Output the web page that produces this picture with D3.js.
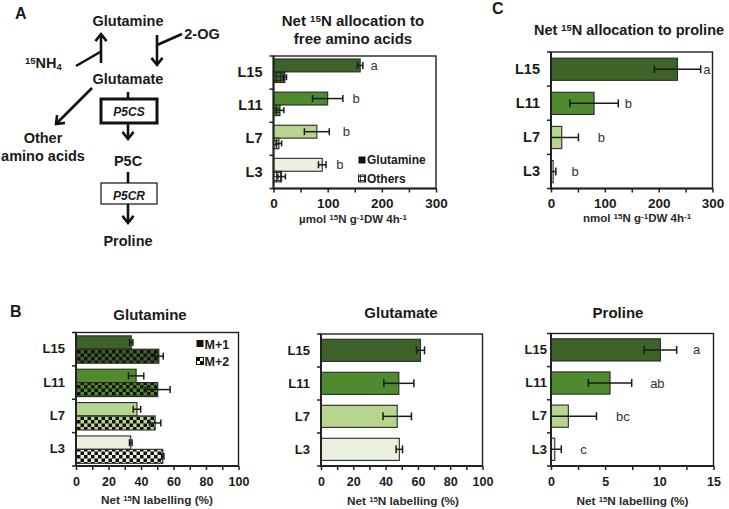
<!DOCTYPE html>
<html><head><meta charset="utf-8">
<script src="https://cdn.jsdelivr.net/npm/d3@7"></script>
<style>body{margin:0;background:#fff} svg{display:block} text{font-family:"Liberation Sans",Arial,sans-serif;fill:#1a1a1a}</style>
</head><body>
<script>
// ---------------- DATA ----------------
const categories = ["L15", "L11", "L7", "L3"];

// Panel A: net 15N allocation to free amino acids (µmol)
const allocGlutamine = [160, 100, 80, 90];
const allocGlutamineErr = [5, 28, 23, 7];
const allocOthers = [21, 12, 10, 15];
const allocOthersErr = [3, 7, 5, 7];
const allocLetters = ["a", "b", "b", "b"];
const allocLetterAt = [179, 146, 128, 116];
const allocTicks = [0, 50, 100, 150, 200, 250, 300];
const allocTickLabels = [0, 100, 200, 300];

// Panel C: net 15N allocation to proline (nmol)
const prolineAlloc = [235, 80, 20, 4];
const prolineAllocErr = [43, 45, 31, 5];
const prolineAllocLetters = ["a", "b", "b", "b"];
const prolineAllocLetterAt = [283, 137, 87, 38];

// Panel B: net 15N labelling (%)
const glnM1 = [34, 37, 37.5, 33.7];
const glnM1Err = [1, 4.7, 2.3, 0.8];
const glnM2 = [51, 50.3, 48.7, 53.4];
const glnM2Err = [2.7, 7.6, 3.5, 0.7];
const gluLabel = [61.6, 48.2, 47.2, 48.5];
const gluLabelErr = [2.5, 9.3, 8.8, 2];
const proLabel = [10.1, 5.45, 1.6, 0.35];
const proLabelErr = [1.5, 2.0, 2.6, 0.6];
const proLetters = ["a", "ab", "bc", "c"];
const proLetterAt = [13.1, 9.15, 6.0, 2.7];
const pctTicks = [0, 10, 20, 30, 40, 50, 60, 70, 80, 90, 100];
const pctTickLabels = [0, 20, 40, 60, 80, 100];
const proTicks = [0, 2.5, 5, 7.5, 10, 12.5, 15];
const proTickLabels = [0, 5, 10, 15];

// ---------------- STYLE ----------------
const colors = ["#3e6329", "#4f8a2f", "#b6d690", "#eaf2df"];
const ink = "#1a1a1a";
const W = 729, H = 509;

const svg = d3.select("body").append("svg").attr("width", W).attr("height", H)
  .attr("viewBox", `0 0 ${W} ${H}`);
const defs = svg.append("defs");

colors.forEach((c, i) => {
  const p = defs.append("pattern").attr("id", "chk" + i).attr("patternUnits", "userSpaceOnUse")
    .attr("width", 7).attr("height", 7);
  p.append("rect").attr("width", 7).attr("height", 7).attr("fill", c);
  p.append("rect").attr("width", 3.5).attr("height", 3.5).attr("fill", "#111");
  p.append("rect").attr("x", 3.5).attr("y", 3.5).attr("width", 3.5).attr("height", 3.5).attr("fill", "#111");
});
colors.concat(["#ffffff"]).forEach((c, i) => {
  const p = defs.append("pattern").attr("id", "grd" + i).attr("patternUnits", "userSpaceOnUse")
    .attr("width", 4).attr("height", 4);
  p.append("rect").attr("width", 4).attr("height", 4).attr("fill", c);
  p.append("path").attr("d", "M0,0.5H4M0.5,0V4").attr("stroke", "#222").attr("stroke-width", 0.9);
});

// ---------------- HELPERS ----------------
function plot(cfg) {
  const g = svg.append("g");
  const x = d3.scaleLinear().domain(cfg.domain).range([cfg.x0, cfg.x1]);
  const y = d3.scaleBand().domain(categories).range([cfg.y0, cfg.y1]);
  cfg.series.forEach(s => {
    const bh = y.bandwidth();
    g.selectAll(null).data(categories).enter().append("rect")
      .attr("x", x(0))
      .attr("y", c => y(c) + s.off * bh)
      .attr("width", (c, i) => Math.max(0, x(s.values[i]) - x(0)))
      .attr("height", s.h * bh)
      .attr("fill", (c, i) => s.fill(i))
      .attr("stroke", "#2a2a2a").attr("stroke-width", 1.1);
    const eg = g.selectAll(null).data(categories).enter().append("g")
      .attr("stroke", ink).attr("stroke-width", 1.5).attr("fill", "none");
    const yc = c => y(c) + (s.off + s.h / 2) * bh;
    const lo = i => x(Math.max(0, s.values[i] - s.err[i]));
    const hi = i => x(s.values[i] + s.err[i]);
    const cap = s.cap;
    eg.append("line").attr("x1", (c, i) => lo(i)).attr("x2", (c, i) => hi(i))
      .attr("y1", yc).attr("y2", yc);
    eg.append("line").attr("x1", (c, i) => lo(i)).attr("x2", (c, i) => lo(i))
      .attr("y1", c => yc(c) - cap).attr("y2", c => yc(c) + cap);
    eg.append("line").attr("x1", (c, i) => hi(i)).attr("x2", (c, i) => hi(i))
      .attr("y1", c => yc(c) - cap).attr("y2", c => yc(c) + cap);
    if (s.letters) {
      g.selectAll(null).data(categories).enter().append("text")
        .attr("x", (c, i) => x(s.letterAt[i]))
        .attr("y", yc).attr("dy", "0.35em")
        .attr("font-size", 13).attr("fill", "#333").style("fill", "#333")
        .text((c, i) => s.letters[i]);
    }
  });
  g.append("rect").attr("x", cfg.x0).attr("y", cfg.y0)
    .attr("width", cfg.x1 - cfg.x0).attr("height", cfg.y1 - cfg.y0)
    .attr("fill", "none").attr("stroke", "#222").attr("stroke-width", 1.4);
  g.append("path").attr("d", `M${cfg.x0},${cfg.y0}V${cfg.y1}H${cfg.x1}`)
    .attr("fill", "none").attr("stroke", "#222").attr("stroke-width", 2);
  const xa = g.append("g").attr("transform", `translate(0,${cfg.y1})`)
    .call(d3.axisBottom(x).tickValues(cfg.ticks).tickSize(4).tickPadding(cfg.xpad)
      .tickFormat(d => cfg.tickLabels.includes(d) ? d : ""));
  xa.select(".domain").remove();
  xa.selectAll("line").attr("stroke", "#222").attr("stroke-width", 1.5);
  xa.selectAll("text").attr("font-size", cfg.tickFs).attr("font-weight", "bold")
    .attr("font-family", '"Liberation Sans",Arial,sans-serif').style("fill", ink);
  g.selectAll(null).data(categories.map(c => y(c)).concat([cfg.y1])).enter().append("line")
    .attr("x1", cfg.x0 - 4).attr("x2", cfg.x0).attr("y1", d => d).attr("y2", d => d)
    .attr("stroke", "#222").attr("stroke-width", 1.5);
  const ya = g.append("g").attr("transform", `translate(${cfg.x0},0)`)
    .call(d3.axisLeft(y).tickSize(0).tickPadding(cfg.ypad));
  ya.select(".domain").remove();
  ya.selectAll("text").attr("font-size", cfg.catFs).attr("font-weight", "bold")
    .attr("font-family", '"Liberation Sans",Arial,sans-serif').style("fill", ink);
  return { g, x, y };
}

function richText(x, y, parts, opts) {
  const t = svg.append("text").attr("x", x).attr("y", y)
    .attr("font-size", opts.fs).attr("font-weight", opts.fw || "bold")
    .attr("text-anchor", opts.anchor || "middle");
  if (opts.fill) t.style("fill", opts.fill);
  if (opts.italic) t.attr("font-style", "italic");
  const k = opts.supk || 0.65;
  parts.forEach(p => {
    const ts = t.append("tspan").text(p.t);
    if (p.sup) ts.attr("font-size", opts.fs * k).attr("baseline-shift", "40%");
    if (p.sub) ts.attr("font-size", opts.fs * k).attr("baseline-shift", "-25%");
  });
  return t;
}

// ---------------- PANEL A: diagram ----------------
richText(15, 19, [{ t: "A" }], { fs: 16, anchor: "start" });
const dg = svg.append("g").attr("stroke", "#111").attr("stroke-width", 2.6).attr("fill", "none")
  .attr("stroke-linecap", "butt");
function line(x1, y1, x2, y2) { dg.append("line").attr("x1", x1).attr("y1", y1).attr("x2", x2).attr("y2", y2); }
function arrow(x1, y1, x2, y2, L = 9, ang = 38) {
  line(x1, y1, x2, y2);
  const a = Math.atan2(y2 - y1, x2 - x1), r = ang * Math.PI / 180;
  const p1 = [x2 - L * Math.cos(a - r), y2 - L * Math.sin(a - r)];
  const p2 = [x2 - L * Math.cos(a + r), y2 - L * Math.sin(a + r)];
  dg.append("path").attr("d", `M${p1}L${x2},${y2}L${p2}`).attr("stroke-linejoin", "miter");
}
const fsD = 14.5;
richText(128, 26, [{ t: "Glutamine" }], { fs: fsD });
richText(202, 39, [{ t: "2-OG" }], { fs: fsD });
richText(25, 68, [{ t: "15", sup: true }, { t: "NH" }, { t: "4", sub: true }], { fs: fsD, anchor: "start" });
richText(128, 84, [{ t: "Glutamate" }], { fs: fsD });
richText(43, 142.5, [{ t: "Other" }], { fs: fsD });
richText(43, 160.5, [{ t: "amino acids" }], { fs: fsD });
richText(128, 165.5, [{ t: "P5C" }], { fs: fsD });
richText(128, 246, [{ t: "Proline" }], { fs: fsD });

arrow(101, 63, 101, 34);
line(76, 66, 101, 51.5);
arrow(157, 35, 157, 65);
line(157, 45, 182, 34);
arrow(92, 88, 56, 124);
line(128, 92, 128, 99);
dg.append("rect").attr("x", 101).attr("y", 99).attr("width", 56).attr("height", 24).attr("stroke-width", 3);
richText(129, 116, [{ t: "P5CS" }], { fs: 12, italic: true });
arrow(128, 123, 128, 139);
line(128, 172, 128, 183);
dg.append("rect").attr("x", 101).attr("y", 183).attr("width", 56).attr("height", 21).attr("stroke-width", 1.2);
richText(129, 200, [{ t: "P5CR" }], { fs: 12, italic: true });
arrow(128, 204, 128, 223);

// ---------------- PANEL A: chart ----------------
richText(353, 26, [{ t: "Net " }, { t: "15", sup: true }, { t: "N allocation to" }], { fs: 15 });
richText(353, 43.5, [{ t: "free amino acids" }], { fs: 15 });
plot({
  domain: [0, 300], x0: 273.5, x1: 436, y0: 56, y1: 188.5,
  ticks: allocTicks, tickLabels: allocTickLabels, xpad: 6, tickFs: 13.5, catFs: 14.5, ypad: 11,
  series: [
    { values: allocGlutamine, err: allocGlutamineErr, off: 0.09, h: 0.39, cap: 3.5,
      fill: i => colors[i], letters: allocLetters, letterAt: allocLetterAt },
    { values: allocOthers, err: allocOthersErr, off: 0.48, h: 0.32, cap: 3,
      fill: i => `url(#grd${i})` }
  ]
});
svg.append("rect").attr("x", 358.5).attr("y", 156.5).attr("width", 7).attr("height", 7).attr("fill", "#111");
richText(367, 164, [{ t: "Glutamine" }], { fs: 12, anchor: "start" });
svg.append("rect").attr("x", 358.5).attr("y", 175).attr("width", 7).attr("height", 7)
  .attr("fill", "url(#grd4)").attr("stroke", "#222").attr("stroke-width", 1);
richText(367, 182.5, [{ t: "Others" }], { fs: 12, anchor: "start" });
richText(353, 223, [{ t: "µmol " }, { t: "15", sup: true }, { t: "N g" }, { t: "-1", sup: true }, { t: "DW 4h" }, { t: "-1", sup: true }], { fs: 11.5, supk: 0.7, fill: "#2a2a2a" });

// ---------------- PANEL C ----------------
richText(492, 14, [{ t: "C" }], { fs: 16, anchor: "start" });
richText(629, 35, [{ t: "Net " }, { t: "15", sup: true }, { t: "N allocation to proline" }], { fs: 14.5 });
plot({
  domain: [0, 300], x0: 551, x1: 712.5, y0: 52, y1: 188.5,
  ticks: allocTicks, tickLabels: allocTickLabels, xpad: 6, tickFs: 13.5, catFs: 14.5, ypad: 11,
  series: [
    { values: prolineAlloc, err: prolineAllocErr, off: 0.18, h: 0.65, cap: 4,
      fill: i => colors[i], letters: prolineAllocLetters, letterAt: prolineAllocLetterAt }
  ]
});
richText(637, 222, [{ t: "nmol " }, { t: "15", sup: true }, { t: "N g" }, { t: "-1", sup: true }, { t: "DW 4h" }, { t: "-1", sup: true }], { fs: 11.5, supk: 0.7, fill: "#2a2a2a" });

// ---------------- PANEL B ----------------
richText(10, 317, [{ t: "B" }], { fs: 16, anchor: "start" });
richText(150, 320, [{ t: "Glutamine" }], { fs: 15 });
plot({
  domain: [0, 100], x0: 76, x1: 238.5, y0: 332.5, y1: 466,
  ticks: pctTicks, tickLabels: pctTickLabels, xpad: 7, tickFs: 12.5, catFs: 13, ypad: 11,
  series: [
    { values: glnM1, err: glnM1Err, off: 0.1, h: 0.4, cap: 3.5, fill: i => colors[i] },
    { values: glnM2, err: glnM2Err, off: 0.5, h: 0.42, cap: 3.5, fill: i => `url(#chk${i})` }
  ]
});
svg.append("rect").attr("x", 196.5).attr("y", 340).attr("width", 7).attr("height", 7).attr("fill", "#111");
richText(204.5, 348.5, [{ t: "M+1" }], { fs: 12.5, anchor: "start" });
const lg2 = svg.append("g");
lg2.append("rect").attr("x", 196.5).attr("y", 357.5).attr("width", 7).attr("height", 7).attr("fill", "#fff").attr("stroke", "#111").attr("stroke-width", 1);
lg2.append("rect").attr("x", 196.5).attr("y", 357.5).attr("width", 3.5).attr("height", 3.5).attr("fill", "#111");
lg2.append("rect").attr("x", 200).attr("y", 361).attr("width", 3.5).attr("height", 3.5).attr("fill", "#111");
richText(204.5, 366, [{ t: "M+2" }], { fs: 12.5, anchor: "start" });
richText(157, 504, [{ t: "Net " }, { t: "15", sup: true }, { t: "N labelling (%)" }], { fs: 11.8, fill: "#2a2a2a" });

richText(401, 318, [{ t: "Glutamate" }], { fs: 15 });
plot({
  domain: [0, 100], x0: 321, x1: 482.5, y0: 334, y1: 466,
  ticks: pctTicks, tickLabels: pctTickLabels, xpad: 7, tickFs: 12.5, catFs: 13, ypad: 11,
  series: [
    { values: gluLabel, err: gluLabelErr, off: 0.16, h: 0.67, cap: 4, fill: i => colors[i] }
  ]
});
richText(403, 505, [{ t: "Net " }, { t: "15", sup: true }, { t: "N labelling (%)" }], { fs: 11.8, fill: "#2a2a2a" });

richText(618, 318, [{ t: "Proline" }], { fs: 15 });
plot({
  domain: [0, 15], x0: 551, x1: 713.5, y0: 333.5, y1: 466,
  ticks: proTicks, tickLabels: proTickLabels, xpad: 7, tickFs: 12.5, catFs: 13, ypad: 4,
  series: [
    { values: proLabel, err: proLabelErr, off: 0.16, h: 0.67, cap: 4, fill: i => colors[i],
      letters: proLetters, letterAt: proLetterAt }
  ]
});
richText(632.5, 505, [{ t: "Net " }, { t: "15", sup: true }, { t: "N labelling (%)" }], { fs: 11.8, fill: "#2a2a2a" });
</script>
</body></html>
